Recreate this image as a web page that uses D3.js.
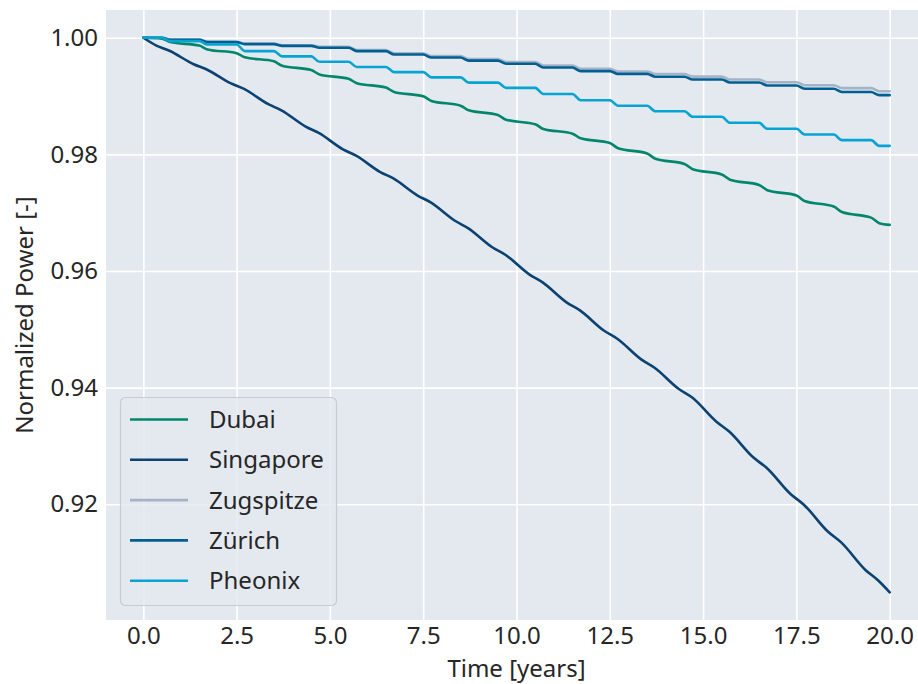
<!DOCTYPE html>
<html><head><meta charset="utf-8">
<script src="https://cdn.jsdelivr.net/npm/d3@7/dist/d3.min.js"></script>
<style>
body{margin:0;background:#fff;}
svg{display:block;font-family:"Noto Sans",sans-serif;}
</style>
</head><body>
<svg id="chart" width="918" height="684"></svg>
<script>
// ---- data ----
const stepTimes = [0, 0.5,0.72, 1.5,1.72, 2.5,2.72, 3.5,3.72, 4.5,4.72, 5.5,5.72, 6.5,6.72, 7.5,7.72, 8.5,8.72, 9.5,9.72,
  10.5,10.72, 11.5,11.72, 12.5,12.72, 13.5,13.72, 14.5,14.72, 15.5,15.72, 16.5,16.72, 17.5,17.72, 18.5,18.72, 19.5,19.72, 20];
const singaporeTimes = [0, 0.35,0.7, 1.35,1.7, 2.35,2.7, 3.35,3.7, 4.35,4.7, 5.35,5.7, 6.35,6.7, 7.35,7.7, 8.35,8.7, 9.35,9.7,
  10.35,10.7, 11.35,11.7, 12.35,12.7, 13.35,13.7, 14.35,14.7, 15.35,15.7, 16.35,16.7, 17.35,17.7, 18.35,18.7, 19.35,19.7, 20];

const dubai = [1.0, 0.99985,0.99925, 0.99865,0.998, 0.99735,0.99665, 0.99595,0.9952, 0.99445,0.9937, 0.99295,0.9922,
  0.99145,0.9907, 0.98995,0.98915, 0.98835,0.98755, 0.98675,0.98595, 0.98515,0.98435, 0.98355,0.98275, 0.98195,0.98105,
  0.98015,0.97925, 0.97835,0.97745, 0.97655,0.97565, 0.97475,0.97385, 0.97295,0.972, 0.97105,0.9701, 0.96915,0.9682, 0.9679];
const singapore = [1.0, 0.99866,0.99776, 0.99546,0.99456, 0.99217,0.99122, 0.9886,0.98754, 0.98476,0.98367, 0.98086,0.97977,
  0.97696,0.97587, 0.97294,0.97176, 0.96861,0.96735, 0.96407,0.96278, 0.95938,0.95804, 0.95458,0.95324, 0.94974,0.94837,
  0.9448,0.9434, 0.93976,0.93833, 0.9342,0.93246, 0.928,0.92626, 0.92171,0.91992, 0.91527,0.91345, 0.90873,0.90688, 0.9049];
const zugspitze = [1.0, 1.0,0.99968, 0.99968,0.99932, 0.99932,0.999, 0.999,0.99872, 0.99872,0.99843, 0.99843,0.99788,
  0.99788,0.99734, 0.99734,0.99684, 0.99684,0.99635, 0.99635,0.99585, 0.99585,0.99525, 0.99525,0.99466, 0.99466,0.99422,
  0.99422,0.99377, 0.99377,0.99333, 0.99333,0.99284, 0.99284,0.99237, 0.99237,0.99185, 0.99185,0.99135, 0.99135,0.99083, 0.99083];
const zurich = [1.0, 1.0,0.99965, 0.99965,0.99925, 0.99925,0.9989, 0.9989,0.9986, 0.9986,0.99828, 0.99828,0.9977,
  0.9977,0.99713, 0.99713,0.9966, 0.9966,0.99607, 0.99607,0.99554, 0.99554,0.9949, 0.9949,0.99427, 0.99427,0.9938,
  0.9938,0.99332, 0.99332,0.99284, 0.99284,0.99232, 0.99232,0.99181, 0.99181,0.99126, 0.99126,0.9907, 0.9907,0.99015, 0.99015];
const pheonix = [1.0, 1.0,0.99942, 0.99942,0.99885, 0.99885,0.9977, 0.9977,0.9968, 0.9968,0.99588, 0.99588,0.99499,
  0.99499,0.9941, 0.9941,0.9932, 0.9932,0.9923, 0.9923,0.9914, 0.9914,0.99035, 0.99035,0.98929, 0.98929,0.98834,
  0.98834,0.98739, 0.98739,0.98644, 0.98644,0.98541, 0.98541,0.98438, 0.98438,0.98341, 0.98341,0.98244, 0.98244,0.98146, 0.98146];

const seriesNames = ["Dubai", "Singapore", "Zugspitze", "Zürich", "Pheonix"];
const seriesValues = [dubai, singapore, zugspitze, zurich, pheonix];
const seriesTimes = [stepTimes, singaporeTimes, stepTimes, stepTimes, stepTimes];
const seriesColors = ["#00866c", "#0b4272", "#a2b4c6", "#005f92", "#06a4d2"];

const xTicks = [0, 2.5, 5, 7.5, 10, 12.5, 15, 17.5, 20];
const yTicks = [0.92, 0.94, 0.96, 0.98, 1.00];
const xLabel = "Time [years]";
const yLabel = "Normalized Power [-]";

// ---- layout ----
const svg = d3.select("#chart");
const plot = {left: 106, top: 10, right: 927, bottom: 620};
const bg = "#e4e9f0";

const allT = seriesTimes.flat();
const allV = seriesValues.flat();
const tExt = d3.extent(allT), vExt = d3.extent(allV);
const tPad = (tExt[1]-tExt[0])*0.05, vPad = (vExt[1]-vExt[0])*0.05;

const x = d3.scaleLinear().domain([tExt[0]-tPad, tExt[1]+tPad]).range([plot.left, plot.right]);
const y = d3.scaleLinear().domain([vExt[0]-vPad, vExt[1]+vPad]).range([plot.bottom, plot.top]);

svg.append("defs").append("clipPath").attr("id","clip")
  .append("rect").attr("x",plot.left).attr("y",plot.top)
  .attr("width",plot.right-plot.left).attr("height",plot.bottom-plot.top);

svg.append("rect").attr("x",plot.left).attr("y",plot.top)
  .attr("width",plot.right-plot.left).attr("height",plot.bottom-plot.top).attr("fill",bg);

// grid via axes
const gx = svg.append("g").attr("transform",`translate(0,${plot.bottom})`)
  .call(d3.axisBottom(x).tickValues(xTicks).tickSize(-(plot.bottom-plot.top)).tickPadding(7).tickFormat(d3.format(".1f")));
const gy = svg.append("g").attr("transform",`translate(${plot.left},0)`)
  .call(d3.axisLeft(y).tickValues(yTicks).tickSize(-(plot.right-plot.left)).tickPadding(8).tickFormat(d3.format(".2f")));
[gx, gy].forEach(g => {
  g.select(".domain").remove();
  g.selectAll(".tick line").attr("stroke","#ffffff").attr("stroke-width",1.6);
  g.selectAll(".tick text").attr("fill","#262626").attr("font-size",24).attr("font-family","Noto Sans, sans-serif");
});
gx.selectAll(".tick text").attr("dy","0.7em");

// lines
const lines = svg.append("g").attr("clip-path","url(#clip)");
seriesValues.forEach((vals, i) => {
  const pts = vals.map((v, j) => [seriesTimes[i][j], v]);
  lines.append("path").datum(pts)
    .attr("fill","none").attr("stroke",seriesColors[i]).attr("stroke-width",2.6)
    .attr("stroke-linejoin","round").attr("stroke-linecap","round")
    .attr("d", d3.line().x(d => x(d[0])).y(d => y(d[1])).curve(d3.curveMonotoneX));
});

// axis labels
svg.append("text").attr("x",(plot.left+plot.right)/2).attr("y",677)
  .attr("text-anchor","middle").attr("font-size",24).attr("fill","#262626").text(xLabel);
svg.append("text").attr("transform",`translate(33,${(plot.top+plot.bottom)/2}) rotate(-90)`)
  .attr("text-anchor","middle").attr("font-size",24).attr("fill","#262626").text(yLabel);

// legend
const lg = svg.append("g");
lg.append("rect").attr("x",120.5).attr("y",397.5).attr("width",216).attr("height",208).attr("rx",5)
  .attr("fill",bg).attr("fill-opacity",0.8).attr("stroke","#c8ccd2").attr("stroke-width",1.2);
seriesNames.forEach((name, i) => {
  const yy = 419.5 + i*40.3;
  lg.append("line").attr("x1",130).attr("x2",188).attr("y1",yy).attr("y2",yy)
    .attr("stroke",seriesColors[i]).attr("stroke-width",2.6);
  lg.append("text").attr("x",209).attr("y",yy).attr("dy","0.35em")
    .attr("font-size",24).attr("fill","#262626").text(name);
});
</script>
</body></html>
